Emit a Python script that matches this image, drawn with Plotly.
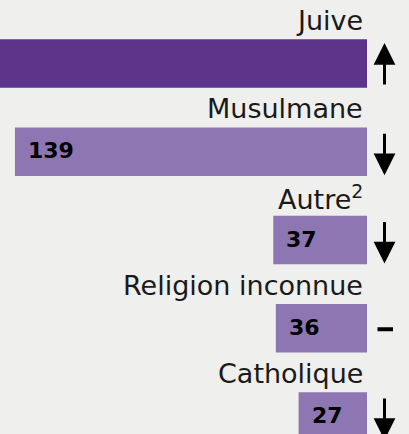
import plotly.graph_objects as go

# ---- data ----
categories = ["Juive", "Musulmane", "Autre<sup>2</sup>", "Religion inconnue", "Catholique"]
values = [300, 139, 37, 36, 27]          # Juive bar runs past the left edge (value not visible)
trends = ["up", "down", "down", "flat", "down"]
bar_colors = ["#5c358a", "#8d76b1", "#8d76b1", "#8d76b1", "#8d76b1"]

W, H = 409, 434
BG = "#efefed"
FONT = "DejaVu Sans"

fig = go.Figure(go.Bar(
    y=list(range(len(categories))), x=values, orientation="h",
    marker=dict(color=bar_colors, line=dict(width=0)),
    width=0.55, hoverinfo="skip",
))

ann = []
arrow_x = 384.5 / W
for i, (cat, v, t) in enumerate(zip(categories, values, trends)):
    # category label above bar
    ann.append(dict(x=365 / W, xref="paper", y=i, yref="y", text=cat,
                    xanchor="right", yanchor="middle", yshift=43, showarrow=False,
                    font=dict(family=FONT, size=27, color="#1a1a1a")))
    # value label inside bar, at its left end
    ann.append(dict(x=v, xref="x", y=i, yref="y", text=f"<b>{v}</b>",
                    xanchor="left", yanchor="middle", xshift=11, yshift=1, showarrow=False,
                    font=dict(family=FONT, size=22, color="#000000")))
    # trend marker
    if t == "up":
        ann.append(dict(x=arrow_x, xref="paper", y=i, yref="y", text="", showarrow=True,
                        ax=0, ay=43, yshift=20.5, arrowhead=2, arrowsize=1.45,
                        arrowwidth=3, arrowcolor="#000000"))
    elif t == "down":
        ann.append(dict(x=arrow_x, xref="paper", y=i, yref="y", text="", showarrow=True,
                        ax=0, ay=-43, yshift=-23.5, arrowhead=2, arrowsize=1.45,
                        arrowwidth=3, arrowcolor="#000000"))
    else:
        ann.append(dict(x=arrow_x, xref="paper", y=i, yref="y", text="", showarrow=True,
                        ax=-17, ay=0, xshift=8.5, yshift=-1, arrowhead=0,
                        arrowwidth=4, arrowcolor="#000000"))

fig.update_layout(
    width=W, height=H,
    margin=dict(l=0, r=0, t=0, b=0),
    paper_bgcolor=BG, plot_bgcolor=BG,
    showlegend=False,
    xaxis=dict(domain=[0, 367 / W], range=[144.9, 0], showgrid=False, zeroline=False,
               showticklabels=False, showline=False, fixedrange=True),
    yaxis=dict(range=[4.198, -0.7195], showgrid=False, zeroline=False,
               showticklabels=False, showline=False, fixedrange=True),
    annotations=ann,
)

fig.write_html(
    "out.html",
    config={"displayModeBar": False},
    post_script="document.body.style.margin='0';document.body.style.overflow='hidden';"
                "document.body.style.background='" + BG + "';",
)
